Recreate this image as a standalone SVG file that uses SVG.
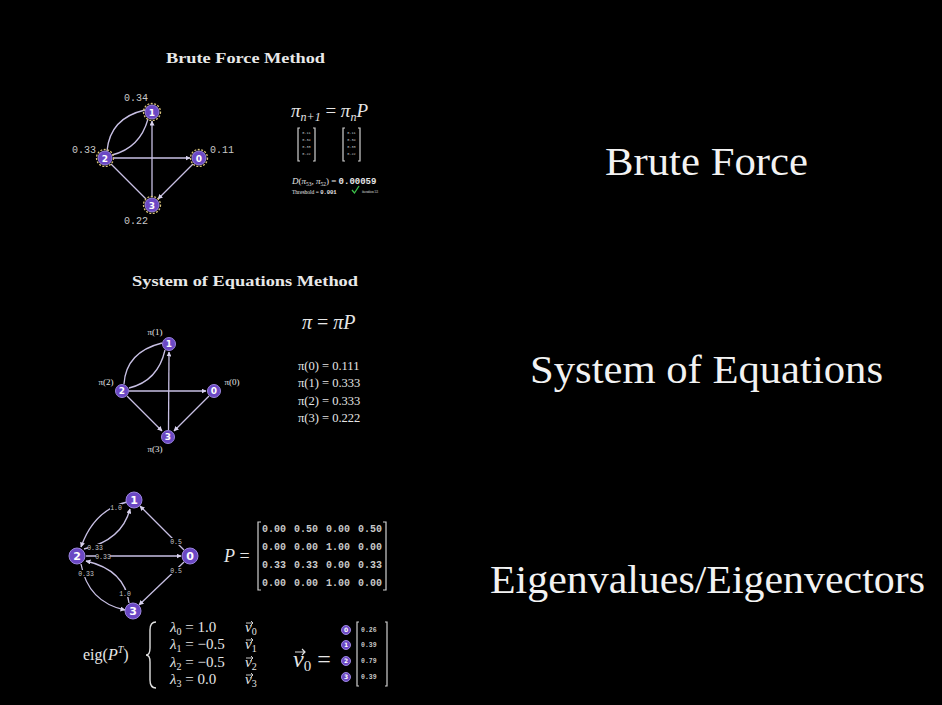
<svg xmlns="http://www.w3.org/2000/svg" width="942" height="705" viewBox="0 0 942 705">
<style>
.bg{fill:#000}
.title{font-family:"Liberation Serif",serif;font-weight:bold;fill:#e8e8e8}
.big{font-family:"Liberation Serif","DejaVu Serif",serif;fill:#f2f2f2;font-size:39px}
.math{font-family:"Liberation Serif",serif;fill:#e6e6e6}
.it{font-style:italic}
.mono{font-family:"Liberation Mono",monospace;fill:#c9c9c9}
.edge{fill:none;stroke:#c8c0e4;stroke-width:1.3}
.node{fill:#6b48c4;stroke:#9a84dc;stroke-width:1}
.ring{fill:none;stroke:#d8c27a;stroke-width:1.3;stroke-dasharray:2 1.5}
.nl{font-family:"DejaVu Sans",sans-serif;font-weight:bold;fill:#fff;text-anchor:middle}
.lbl{font-family:"Liberation Mono",monospace;fill:#c8c8c8;font-size:6.5px;text-anchor:middle}
.brk{fill:none;stroke:#d0d0d0;stroke-width:1.2}
</style>
<defs>
<marker id="ah" viewBox="0 0 10 10" refX="9" refY="5" markerWidth="5" markerHeight="5" orient="auto" markerUnits="userSpaceOnUse">
<path d="M0,0 L10,5 L0,10 z" fill="#d8d2ee"/>
</marker>
</defs>
<rect class="bg" x="0" y="0" width="942" height="705"/>

<!-- Right headings -->
<text class="big" font-family="Liberation Serif, serif" x="605" y="175" textLength="203" lengthAdjust="spacingAndGlyphs">Brute Force</text>
<text class="big" font-family="Liberation Serif, serif" x="530" y="383" textLength="353" lengthAdjust="spacingAndGlyphs">System of Equations</text>
<text class="big" font-family="Liberation Serif, serif" x="490" y="593" textLength="435" lengthAdjust="spacingAndGlyphs">Eigenvalues/Eigenvectors</text>

<!-- ===== Brute Force section ===== -->
<text class="title" x="166" y="63" font-size="15" textLength="159" lengthAdjust="spacingAndGlyphs">Brute Force Method</text>

<g id="bf-connectors">
<line class="edge" x1="152" y1="197" x2="152" y2="121" marker-end="url(#ah)"/>
<line class="edge" x1="113" y1="158" x2="190" y2="158" marker-end="url(#ah)"/>
<line class="edge" x1="111" y1="164" x2="146" y2="199"/>
<line class="edge" x1="193" y1="164" x2="158" y2="199" marker-end="url(#ah)"/>
<path class="edge" d="M107,151 Q110,118 145,110"/>
<path class="edge" d="M148,119 Q140,148 112,155"/>
</g>
<g id="bf-node1"><circle class="node" cx="152" cy="112" r="7"/><circle class="ring" cx="152" cy="112" r="8.5"/><text class="nl" x="152" y="115.5" font-size="9">1</text></g>
<g id="bf-node2"><circle class="node" cx="105" cy="158" r="7"/><circle class="ring" cx="105" cy="158" r="8.5"/><text class="nl" x="105" y="161.5" font-size="9">2</text></g>
<g id="bf-node0"><circle class="node" cx="199" cy="158" r="7"/><circle class="ring" cx="199" cy="158" r="8.5"/><text class="nl" x="199" y="161.5" font-size="9">0</text></g>
<g id="bf-node3"><circle class="node" cx="152" cy="205" r="7"/><circle class="ring" cx="152" cy="205" r="8.5"/><text class="nl" x="152" y="208.5" font-size="9">3</text></g>
<g class="mono" font-size="10" text-anchor="middle">
<text x="136" y="101">0.34</text>
<text x="84" y="153">0.33</text>
<text x="222" y="153">0.11</text>
<text x="136" y="224">0.22</text>
</g>

<text class="math it" x="291" y="117" font-size="19">π<tspan font-size="12" dy="4">n+1</tspan><tspan dy="-4" font-style="normal"> = </tspan>π<tspan font-size="12" dy="4">n</tspan><tspan dy="-4">P</tspan></text>
<g id="bf-vec1">
<path class="brk" stroke-width="0.8" d="M300,128 L298,128 L298,161 L300,161 M313,128 L315,128 L315,161 L313,161"/>
<g class="mono" font-size="3.5" text-anchor="middle"><text x="306.5" y="134">0.11</text><text x="306.5" y="141">0.34</text><text x="306.5" y="148">0.33</text><text x="306.5" y="155">0.22</text></g>
</g>
<g id="bf-vec2">
<path class="brk" stroke-width="0.8" d="M345,128 L343,128 L343,161 L345,161 M358,128 L360,128 L360,161 L358,161"/>
<g class="mono" font-size="3.5" text-anchor="middle"><text x="351.5" y="134">0.11</text><text x="351.5" y="141">0.34</text><text x="351.5" y="148">0.33</text><text x="351.5" y="155">0.22</text></g>
</g>
<text class="math" x="292" y="184" font-size="9"><tspan font-style="italic">D</tspan>(<tspan font-style="italic">π</tspan><tspan font-size="5.5" dy="2">53</tspan><tspan dy="-2">, </tspan><tspan font-style="italic">π</tspan><tspan font-size="5.5" dy="2">52</tspan><tspan dy="-2">) = </tspan><tspan font-family="Liberation Mono" font-weight="bold">0.00059</tspan></text>
<text class="math" x="292" y="193.5" font-size="5.5">Threshold = <tspan font-family="Liberation Mono" font-weight="bold">0.001</tspan></text>
<path d="M352,190 L354.5,193 L359,186" fill="none" stroke="#3cc24a" stroke-width="1.3"/>
<text class="math" x="362" y="193" font-size="3.5" fill="#bbb">iteration 53</text>

<!-- ===== System of Equations section ===== -->
<text class="title" x="132" y="286" font-size="15" textLength="226" lengthAdjust="spacingAndGlyphs">System of Equations Method</text>

<g id="se-connectors">
<line class="edge" x1="168.5" y1="430" x2="169" y2="352" marker-end="url(#ah)"/>
<line class="edge" x1="129" y1="391" x2="206" y2="391" marker-end="url(#ah)"/>
<line class="edge" x1="127" y1="396" x2="162" y2="431" marker-end="url(#ah)"/>
<line class="edge" x1="209" y1="396" x2="174" y2="431" marker-end="url(#ah)"/>
<path class="edge" d="M124,384 Q126,352 162,343"/>
<path class="edge" d="M165,350 Q158,381 129,388"/>
</g>
<g id="se-node1"><circle class="node" cx="169" cy="344" r="6.5"/><text class="nl" x="169" y="347.3" font-size="9">1</text></g>
<g id="se-node2"><circle class="node" cx="122" cy="391" r="6.5"/><text class="nl" x="122" y="394.3" font-size="9">2</text></g>
<g id="se-node0"><circle class="node" cx="214" cy="391" r="6.5"/><text class="nl" x="214" y="394.3" font-size="9">0</text></g>
<g id="se-node3"><circle class="node" cx="168" cy="437" r="6.5"/><text class="nl" x="168" y="440.3" font-size="9">3</text></g>
<g class="math" font-size="9" text-anchor="middle">
<text x="155" y="335">π(1)</text>
<text x="106" y="385">π(2)</text>
<text x="232" y="385">π(0)</text>
<text x="155" y="452">π(3)</text>
</g>
<text class="math" x="302" y="329" font-size="20" font-style="italic">π <tspan font-style="normal">=</tspan> πP</text>
<g class="math" font-size="12.5">
<text x="298" y="370">π(0) = 0.111</text>
<text x="298" y="387">π(1) = 0.333</text>
<text x="298" y="405">π(2) = 0.333</text>
<text x="298" y="422">π(3) = 0.222</text>
</g>

<!-- ===== Eigen section ===== -->
<g id="eg-connectors">
<line class="edge" x1="184" y1="550" x2="140" y2="506" marker-end="url(#ah)"/>
<line class="edge" x1="184" y1="562" x2="139" y2="605" marker-end="url(#ah)"/>
<line class="edge" x1="86" y1="556" x2="181" y2="556" marker-end="url(#ah)"/>
<path class="edge" d="M127,502 Q94,510 81,547" marker-end="url(#ah)"/>
<path class="edge" d="M84,549 Q122,540 130,509" marker-end="url(#ah)"/>
<path class="edge" d="M81,564 Q88,602 125,610" marker-end="url(#ah)"/>
<path class="edge" d="M129,603 Q125,570 86,561" marker-end="url(#ah)"/>
<g fill="#000">
<rect x="110" y="504" width="12" height="7"/>
<rect x="88" y="544" width="14" height="7"/>
<rect x="96" y="553" width="14" height="7"/>
<rect x="170" y="538" width="12" height="7"/>
<rect x="170" y="567" width="12" height="7"/>
<rect x="79" y="570" width="14" height="7"/>
<rect x="119" y="590" width="12" height="7"/>
</g>
<text class="lbl" x="116" y="510">1.0</text>
<text class="lbl" x="95" y="550">0.33</text>
<text class="lbl" x="103" y="559">0.33</text>
<text class="lbl" x="176" y="544">0.5</text>
<text class="lbl" x="176" y="573">0.5</text>
<text class="lbl" x="86" y="576">0.33</text>
<text class="lbl" x="125" y="596">1.0</text>
</g>
<g id="eg-node1"><circle class="node" cx="134" cy="500" r="8"/><text class="nl" x="134" y="504" font-size="11">1</text></g>
<g id="eg-node2"><circle class="node" cx="77" cy="556" r="8"/><text class="nl" x="77" y="560" font-size="11">2</text></g>
<g id="eg-node0"><circle class="node" cx="190" cy="556" r="8"/><text class="nl" x="190" y="560" font-size="11">0</text></g>
<g id="eg-node3"><circle class="node" cx="133" cy="611" r="8"/><text class="nl" x="133" y="615" font-size="11">3</text></g>

<text class="math" x="224" y="562" font-size="18"><tspan font-style="italic">P</tspan> =</text>
<path class="brk" d="M261,522 L258,522 L258,590 L261,590 M383,522 L386,522 L386,590 L383,590"/>
<g class="mono" font-size="10" font-weight="bold">
<text x="262" y="532">0.00</text><text x="294" y="532">0.50</text><text x="326" y="532">0.00</text><text x="358" y="532">0.50</text>
<text x="262" y="550">0.00</text><text x="294" y="550">0.00</text><text x="326" y="550">1.00</text><text x="358" y="550">0.00</text>
<text x="262" y="568">0.33</text><text x="294" y="568">0.33</text><text x="326" y="568">0.00</text><text x="358" y="568">0.33</text>
<text x="262" y="586">0.00</text><text x="294" y="586">0.00</text><text x="326" y="586">1.00</text><text x="358" y="586">0.00</text>
</g>

<text class="math" x="83" y="660" font-size="16">eig(<tspan font-style="italic">P</tspan><tspan font-size="10" dy="-7" font-style="italic">T</tspan><tspan dy="7">)</tspan></text>
<path d="M156,622 Q150,622 150,630 L150,648 Q150,655 146,655 Q150,655 150,662 L150,680 Q150,688 156,688" fill="none" stroke="#e0e0e0" stroke-width="1.4"/>
<g class="math" font-size="15">
<text x="170" y="632"><tspan font-style="italic">λ</tspan><tspan font-size="10" dy="3">0</tspan><tspan dy="-3"> = 1.0</tspan></text>
<text x="170" y="649"><tspan font-style="italic">λ</tspan><tspan font-size="10" dy="3">1</tspan><tspan dy="-3"> = −0.5</tspan></text>
<text x="170" y="667"><tspan font-style="italic">λ</tspan><tspan font-size="10" dy="3">2</tspan><tspan dy="-3"> = −0.5</tspan></text>
<text x="170" y="684"><tspan font-style="italic">λ</tspan><tspan font-size="10" dy="3">3</tspan><tspan dy="-3"> = 0.0</tspan></text>
<text x="245" y="632"><tspan font-style="italic">v</tspan><tspan font-size="10" dy="3">0</tspan></text>
<text x="245" y="649"><tspan font-style="italic">v</tspan><tspan font-size="10" dy="3">1</tspan></text>
<text x="245" y="667"><tspan font-style="italic">v</tspan><tspan font-size="10" dy="3">2</tspan></text>
<text x="245" y="684"><tspan font-style="italic">v</tspan><tspan font-size="10" dy="3">3</tspan></text>
</g>
<g fill="none" stroke="#e0e0e0" stroke-width="0.9">
<path d="M246,623 L253,623 M251,621 L253,623 L251,625"/>
<path d="M246,640 L253,640 M251,638 L253,640 L251,642"/>
<path d="M246,658 L253,658 M251,656 L253,658 L251,660"/>
<path d="M246,675 L253,675 M251,673 L253,675 L251,677"/>
<path d="M295,652 L305,652 M302,649 L305,652 L302,655" stroke-width="1.2"/>
</g>
<text class="math" x="293" y="667" font-size="24"><tspan font-style="italic">v</tspan><tspan font-size="15" dy="4">0</tspan><tspan dy="-4"> =</tspan></text>
<g id="eg-v0-node0"><circle class="node" cx="346" cy="630" r="4.5"/><text class="nl" x="346" y="632.3" font-size="6">0</text></g>
<g id="eg-v0-node1"><circle class="node" cx="346" cy="645" r="4.5"/><text class="nl" x="346" y="647.3" font-size="6">1</text></g>
<g id="eg-v0-node2"><circle class="node" cx="346" cy="661" r="4.5"/><text class="nl" x="346" y="663.3" font-size="6">2</text></g>
<g id="eg-v0-node3"><circle class="node" cx="346" cy="677" r="4.5"/><text class="nl" x="346" y="679.3" font-size="6">3</text></g>
<path class="brk" d="M359,622 L357,622 L357,686 L359,686 M385,622 L387,622 L387,686 L385,686"/>
<g class="mono" font-size="6.5" font-weight="bold">
<text x="361" y="632">0.26</text>
<text x="361" y="647">0.39</text>
<text x="361" y="663">0.79</text>
<text x="361" y="679">0.39</text>
</g>
</svg>
